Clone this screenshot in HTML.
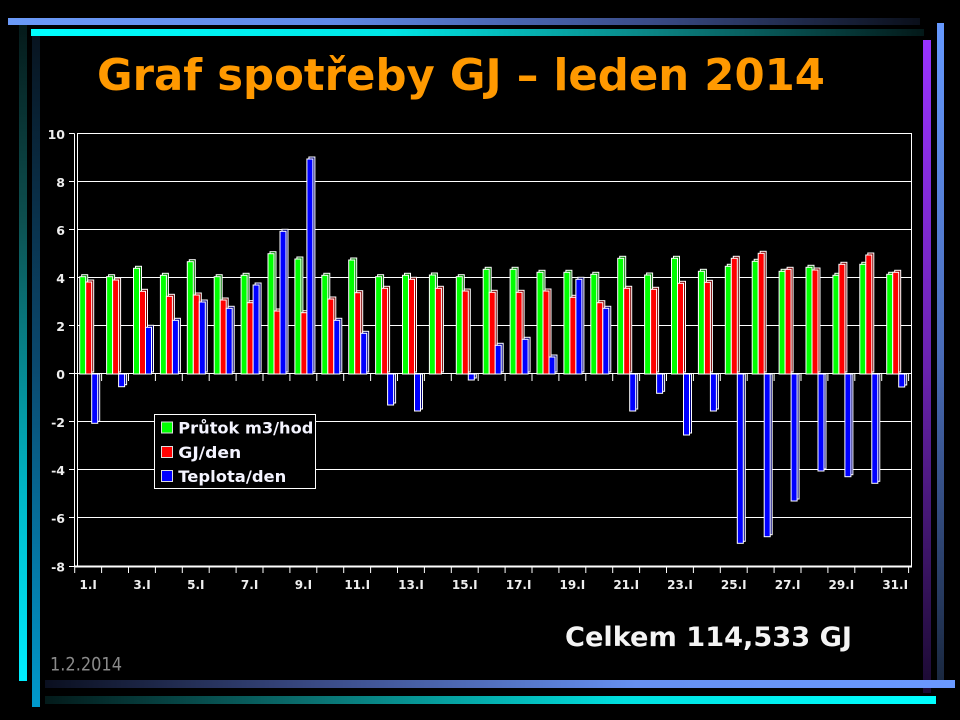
<!DOCTYPE html>
<html><head><meta charset="utf-8"><style>
html,body{margin:0;padding:0;background:#000;}
body{width:960px;height:720px;overflow:hidden;}
svg{display:block;}
.g{fill:#00ff00;stroke:#fff;stroke-width:1}
.gd{fill:#007a00;stroke:#fff;stroke-width:1}
.r{fill:#ff0000;stroke:#fff;stroke-width:1}
.rd{fill:#7a0000;stroke:#fff;stroke-width:1}
.b{fill:#0000ff;stroke:#fff;stroke-width:1}
.bd{fill:#00007a;stroke:#fff;stroke-width:1}
.yl{font-family:"DejaVu Sans","Liberation Sans",sans-serif;font-weight:bold;font-size:12.5px;fill:#eee;text-anchor:end}
.xl{font-family:"DejaVu Sans","Liberation Sans",sans-serif;font-weight:bold;font-size:12px;fill:#eee;text-anchor:middle}
.lg{font-family:"DejaVu Sans","Liberation Sans",sans-serif;font-weight:bold;font-size:16px;fill:#f4f4ff}
</style></head><body>
<svg width="960" height="720" viewBox="0 0 960 720" xmlns="http://www.w3.org/2000/svg">
<defs>
<linearGradient id="t1" x1="0" y1="0" x2="1" y2="0"><stop offset="0" stop-color="#6b9af8"/><stop offset="0.35" stop-color="#5f8ae8"/><stop offset="0.7" stop-color="#3a4c88"/><stop offset="1" stop-color="#0a0f1a"/></linearGradient>
<linearGradient id="t2" x1="0" y1="0" x2="1" y2="0"><stop offset="0" stop-color="#00ffff"/><stop offset="0.4" stop-color="#00e6e6"/><stop offset="0.7" stop-color="#0a8282"/><stop offset="1" stop-color="#031818"/></linearGradient>
<linearGradient id="la" x1="0" y1="0" x2="0" y2="1"><stop offset="0" stop-color="#051a1a"/><stop offset="0.3" stop-color="#0d5050"/><stop offset="0.7" stop-color="#00b4c4"/><stop offset="1" stop-color="#00eeff"/></linearGradient>
<linearGradient id="lb" x1="0" y1="0" x2="0" y2="1"><stop offset="0" stop-color="#081420"/><stop offset="0.5" stop-color="#0a4a70"/><stop offset="1" stop-color="#0099cc"/></linearGradient>
<linearGradient id="rp" x1="0" y1="0" x2="0" y2="1"><stop offset="0" stop-color="#9933ff"/><stop offset="0.5" stop-color="#6a22b0"/><stop offset="1" stop-color="#1a0a30"/></linearGradient>
<linearGradient id="rb" x1="0" y1="0" x2="0" y2="1"><stop offset="0" stop-color="#6699ff"/><stop offset="0.5" stop-color="#4a6cb8"/><stop offset="1" stop-color="#1a2840"/></linearGradient>
<linearGradient id="b1" x1="0" y1="0" x2="1" y2="0"><stop offset="0" stop-color="#0a0f1f"/><stop offset="0.3" stop-color="#3a4a85"/><stop offset="0.65" stop-color="#6690f0"/><stop offset="1" stop-color="#6a99ff"/></linearGradient>
<linearGradient id="b2" x1="0" y1="0" x2="1" y2="0"><stop offset="0" stop-color="#031a1a"/><stop offset="0.3" stop-color="#0a7070"/><stop offset="0.65" stop-color="#00e0e0"/><stop offset="1" stop-color="#00ffff"/></linearGradient>
</defs>

<!-- decorative bars -->
<rect x="8" y="18" width="912" height="7" fill="url(#t1)"/>
<rect x="31" y="29" width="893" height="7" fill="url(#t2)"/>
<rect x="19" y="25" width="8" height="656" fill="url(#la)"/>
<rect x="32" y="36" width="8" height="671" fill="url(#lb)"/>
<rect x="923" y="40" width="8" height="653" fill="url(#rp)"/>
<rect x="937" y="23" width="7" height="657" fill="url(#rb)"/>
<rect x="45" y="680" width="910" height="8" fill="url(#b1)"/>
<rect x="45" y="696" width="891" height="8" fill="url(#b2)"/>

<!-- title -->
<text x="97" y="90" font-family="DejaVu Sans, Liberation Sans, sans-serif" font-weight="bold" font-size="44" fill="#ff9900" textLength="728" lengthAdjust="spacingAndGlyphs">Graf spotřeby GJ – leden 2014</text>

<!-- gridlines -->
<g stroke="#fff" stroke-width="1" shape-rendering="crispEdges">
<line x1="77" y1="133.5" x2="911.5" y2="133.5"/>
<line x1="77" y1="181.5" x2="911.5" y2="181.5"/>
<line x1="77" y1="229.5" x2="911.5" y2="229.5"/>
<line x1="77" y1="277.5" x2="911.5" y2="277.5"/>
<line x1="77" y1="325.5" x2="911.5" y2="325.5"/>
<line x1="74.5" y1="373.5" x2="911.5" y2="373.5"/>
<line x1="77" y1="421.5" x2="911.5" y2="421.5"/>
<line x1="77" y1="469.5" x2="911.5" y2="469.5"/>
<line x1="77" y1="517.5" x2="911.5" y2="517.5"/>
<!-- left ticks -->
<line x1="69" y1="133.5" x2="74.5" y2="133.5"/>
<line x1="69" y1="181.5" x2="74.5" y2="181.5"/>
<line x1="69" y1="229.5" x2="74.5" y2="229.5"/>
<line x1="69" y1="277.5" x2="74.5" y2="277.5"/>
<line x1="69" y1="325.5" x2="74.5" y2="325.5"/>
<line x1="69" y1="373.5" x2="74.5" y2="373.5"/>
<line x1="69" y1="421.5" x2="74.5" y2="421.5"/>
<line x1="69" y1="469.5" x2="74.5" y2="469.5"/>
<line x1="69" y1="517.5" x2="74.5" y2="517.5"/>
<line x1="69" y1="566.5" x2="74.5" y2="566.5"/>
<!-- frame -->
<line x1="74.5" y1="133.5" x2="74.5" y2="567"/>
<line x1="77.5" y1="133" x2="77.5" y2="567"/>
<line x1="911.5" y1="133" x2="911.5" y2="567"/>
</g>
<line x1="74.5" y1="566.5" x2="912" y2="566.5" stroke="#fff" stroke-width="2" shape-rendering="crispEdges"/>

<!-- category ticks at 0 and bottom -->
<g stroke="#fff" stroke-width="1">
<path d="M101.6 374V381M128.5 374V381M155.4 374V381M182.3 374V381M209.2 374V381M236.1 374V381M263 374V381M289.9 374V381M316.8 374V381M343.7 374V381M370.6 374V381M397.5 374V381M424.4 374V381M451.3 374V381M478.2 374V381M505.1 374V381M532 374V381M558.9 374V381M585.8 374V381M612.7 374V381M639.6 374V381M666.5 374V381M693.4 374V381M720.3 374V381M747.2 374V381M774.1 374V381M801 374V381M827.9 374V381M854.8 374V381M881.7 374V381M908.6 374V381"/>
<path d="M74.7 567V573M101.6 567V573M128.5 567V573M155.4 567V573M182.3 567V573M209.2 567V573M236.1 567V573M263 567V573M289.9 567V573M316.8 567V573M343.7 567V573M370.6 567V573M397.5 567V573M424.4 567V573M451.3 567V573M478.2 567V573M505.1 567V573M532 567V573M558.9 567V573M585.8 567V573M612.7 567V573M639.6 567V573M666.5 567V573M693.4 567V573M720.3 567V573M747.2 567V573M774.1 567V573M801 567V573M827.9 567V573M854.8 567V573M881.7 567V573M908.6 567V573"/>
</g>

<!-- y labels -->
<text class="yl" x="65" y="139">10</text>
<text class="yl" x="65" y="187">8</text>
<text class="yl" x="65" y="235">6</text>
<text class="yl" x="65" y="283">4</text>
<text class="yl" x="65" y="331">2</text>
<text class="yl" x="65" y="379">0</text>
<text class="yl" x="65" y="427">-2</text>
<text class="yl" x="65" y="475">-4</text>
<text class="yl" x="65" y="523">-6</text>
<text class="yl" x="65" y="571.5">-8</text>

<!-- x labels -->
<text class="xl" x="88.2" y="589">1.I</text>
<text class="xl" x="142" y="589">3.I</text>
<text class="xl" x="195.8" y="589">5.I</text>
<text class="xl" x="249.6" y="589">7.I</text>
<text class="xl" x="303.4" y="589">9.I</text>
<text class="xl" x="357.2" y="589">11.I</text>
<text class="xl" x="411" y="589">13.I</text>
<text class="xl" x="464.8" y="589">15.I</text>
<text class="xl" x="518.6" y="589">17.I</text>
<text class="xl" x="572.4" y="589">19.I</text>
<text class="xl" x="626.2" y="589">21.I</text>
<text class="xl" x="680" y="589">23.I</text>
<text class="xl" x="733.8" y="589">25.I</text>
<text class="xl" x="787.6" y="589">27.I</text>
<text class="xl" x="841.4" y="589">29.I</text>
<text class="xl" x="895.2" y="589">31.I</text>

<!-- bars -->
<g transform="translate(74.7,0)">
<rect class="gd" x="7" y="274.7" width="6" height="97.3"/><rect class="g" x="5" y="276.7" width="6" height="97.3"/>
<rect class="rd" x="13" y="280" width="6" height="92"/><rect class="r" x="11" y="282" width="6" height="92"/>
<rect class="bd" x="19" y="374" width="6" height="47.3"/><rect class="b" x="17" y="374" width="6" height="49.3"/>
</g>
<g transform="translate(101.6,0)">
<rect class="gd" x="7" y="274.7" width="6" height="97.3"/><rect class="g" x="5" y="276.7" width="6" height="97.3"/>
<rect class="rd" x="13" y="278" width="6" height="94"/><rect class="r" x="11" y="280" width="6" height="94"/>
<rect class="bd" x="19" y="374" width="6" height="10.7"/><rect class="b" x="17" y="374" width="6" height="12.7"/>
</g>
<g transform="translate(128.5,0)">
<rect class="gd" x="7" y="266.3" width="6" height="105.7"/><rect class="g" x="5" y="268.3" width="6" height="105.7"/>
<rect class="rd" x="13" y="289.3" width="6" height="82.7"/><rect class="r" x="11" y="291.3" width="6" height="82.7"/>
<rect class="bd" x="19" y="325.3" width="6" height="46.7"/><rect class="b" x="17" y="327.3" width="6" height="46.7"/>
</g>
<g transform="translate(155.4,0)">
<rect class="gd" x="7" y="273.3" width="6" height="98.7"/><rect class="g" x="5" y="275.3" width="6" height="98.7"/>
<rect class="rd" x="13" y="294.3" width="6" height="77.7"/><rect class="r" x="11" y="296.3" width="6" height="77.7"/>
<rect class="bd" x="19" y="318.3" width="6" height="53.7"/><rect class="b" x="17" y="320.3" width="6" height="53.7"/>
</g>
<g transform="translate(182.3,0)">
<rect class="gd" x="7" y="259.7" width="6" height="112.3"/><rect class="g" x="5" y="261.7" width="6" height="112.3"/>
<rect class="rd" x="13" y="293" width="6" height="79"/><rect class="r" x="11" y="295" width="6" height="79"/>
<rect class="bd" x="19" y="300" width="6" height="72"/><rect class="b" x="17" y="302" width="6" height="72"/>
</g>
<g transform="translate(209.2,0)">
<rect class="gd" x="7" y="274.7" width="6" height="97.3"/><rect class="g" x="5" y="276.7" width="6" height="97.3"/>
<rect class="rd" x="13" y="298" width="6" height="74"/><rect class="r" x="11" y="300" width="6" height="74"/>
<rect class="bd" x="19" y="306.3" width="6" height="65.7"/><rect class="b" x="17" y="308.3" width="6" height="65.7"/>
</g>
<g transform="translate(236.1,0)">
<rect class="gd" x="7" y="273.3" width="6" height="98.7"/><rect class="g" x="5" y="275.3" width="6" height="98.7"/>
<rect class="rd" x="13" y="300.7" width="6" height="71.3"/><rect class="r" x="11" y="302.7" width="6" height="71.3"/>
<rect class="bd" x="19" y="283" width="6" height="89"/><rect class="b" x="17" y="285" width="6" height="89"/>
</g>
<g transform="translate(263,0)">
<rect class="gd" x="7" y="251.7" width="6" height="120.3"/><rect class="g" x="5" y="253.7" width="6" height="120.3"/>
<rect class="rd" x="13" y="309" width="6" height="63"/><rect class="r" x="11" y="311" width="6" height="63"/>
<rect class="bd" x="19" y="229.3" width="6" height="142.7"/><rect class="b" x="17" y="231.3" width="6" height="142.7"/>
</g>
<g transform="translate(289.9,0)">
<rect class="gd" x="7" y="257" width="6" height="115"/><rect class="g" x="5" y="259" width="6" height="115"/>
<rect class="rd" x="13" y="310.7" width="6" height="61.3"/><rect class="r" x="11" y="312.7" width="6" height="61.3"/>
<rect class="bd" x="19" y="157" width="6" height="215"/><rect class="b" x="17" y="159" width="6" height="215"/>
</g>
<g transform="translate(316.8,0)">
<rect class="gd" x="7" y="273.3" width="6" height="98.7"/><rect class="g" x="5" y="275.3" width="6" height="98.7"/>
<rect class="rd" x="13" y="297" width="6" height="75"/><rect class="r" x="11" y="299" width="6" height="75"/>
<rect class="bd" x="19" y="318.3" width="6" height="53.7"/><rect class="b" x="17" y="320.3" width="6" height="53.7"/>
</g>
<g transform="translate(343.7,0)">
<rect class="gd" x="7" y="258" width="6" height="114"/><rect class="g" x="5" y="260" width="6" height="114"/>
<rect class="rd" x="13" y="290.7" width="6" height="81.3"/><rect class="r" x="11" y="292.7" width="6" height="81.3"/>
<rect class="bd" x="19" y="331.3" width="6" height="40.7"/><rect class="b" x="17" y="333.3" width="6" height="40.7"/>
</g>
<g transform="translate(370.6,0)">
<rect class="gd" x="7" y="274.7" width="6" height="97.3"/><rect class="g" x="5" y="276.7" width="6" height="97.3"/>
<rect class="rd" x="13" y="286.3" width="6" height="85.7"/><rect class="r" x="11" y="288.3" width="6" height="85.7"/>
<rect class="bd" x="19" y="374" width="6" height="29"/><rect class="b" x="17" y="374" width="6" height="31"/>
</g>
<g transform="translate(397.5,0)">
<rect class="gd" x="7" y="273.3" width="6" height="98.7"/><rect class="g" x="5" y="275.3" width="6" height="98.7"/>
<rect class="rd" x="13" y="277.3" width="6" height="94.7"/><rect class="r" x="11" y="279.3" width="6" height="94.7"/>
<rect class="bd" x="19" y="374" width="6" height="35"/><rect class="b" x="17" y="374" width="6" height="37"/>
</g>
<g transform="translate(424.4,0)">
<rect class="gd" x="7" y="273" width="6" height="99"/><rect class="g" x="5" y="275" width="6" height="99"/>
<rect class="rd" x="13" y="286.3" width="6" height="85.7"/><rect class="r" x="11" y="288.3" width="6" height="85.7"/>
</g>
<g transform="translate(451.3,0)">
<rect class="gd" x="7" y="274.7" width="6" height="97.3"/><rect class="g" x="5" y="276.7" width="6" height="97.3"/>
<rect class="rd" x="13" y="289" width="6" height="83"/><rect class="r" x="11" y="291" width="6" height="83"/>
<rect class="bd" x="19" y="374" width="6" height="4"/><rect class="b" x="17" y="374" width="6" height="6"/>
</g>
<g transform="translate(478.2,0)">
<rect class="gd" x="7" y="267.3" width="6" height="104.7"/><rect class="g" x="5" y="269.3" width="6" height="104.7"/>
<rect class="rd" x="13" y="290.3" width="6" height="81.7"/><rect class="r" x="11" y="292.3" width="6" height="81.7"/>
<rect class="bd" x="19" y="343.3" width="6" height="28.7"/><rect class="b" x="17" y="345.3" width="6" height="28.7"/>
</g>
<g transform="translate(505.1,0)">
<rect class="gd" x="7" y="267.3" width="6" height="104.7"/><rect class="g" x="5" y="269.3" width="6" height="104.7"/>
<rect class="rd" x="13" y="290.3" width="6" height="81.7"/><rect class="r" x="11" y="292.3" width="6" height="81.7"/>
<rect class="bd" x="19" y="337.3" width="6" height="34.7"/><rect class="b" x="17" y="339.3" width="6" height="34.7"/>
</g>
<g transform="translate(532,0)">
<rect class="gd" x="7" y="270.3" width="6" height="101.7"/><rect class="g" x="5" y="272.3" width="6" height="101.7"/>
<rect class="rd" x="13" y="289" width="6" height="83"/><rect class="r" x="11" y="291" width="6" height="83"/>
<rect class="bd" x="19" y="355" width="6" height="17"/><rect class="b" x="17" y="357" width="6" height="17"/>
</g>
<g transform="translate(558.9,0)">
<rect class="gd" x="7" y="270.3" width="6" height="101.7"/><rect class="g" x="5" y="272.3" width="6" height="101.7"/>
<rect class="rd" x="13" y="295.3" width="6" height="76.7"/><rect class="r" x="11" y="297.3" width="6" height="76.7"/>
<rect class="bd" x="19" y="277.3" width="6" height="94.7"/><rect class="b" x="17" y="279.3" width="6" height="94.7"/>
</g>
<g transform="translate(585.8,0)">
<rect class="gd" x="7" y="272.3" width="6" height="99.7"/><rect class="g" x="5" y="274.3" width="6" height="99.7"/>
<rect class="rd" x="13" y="300.7" width="6" height="71.3"/><rect class="r" x="11" y="302.7" width="6" height="71.3"/>
<rect class="bd" x="19" y="306.3" width="6" height="65.7"/><rect class="b" x="17" y="308.3" width="6" height="65.7"/>
</g>
<g transform="translate(612.7,0)">
<rect class="gd" x="7" y="256.3" width="6" height="115.7"/><rect class="g" x="5" y="258.3" width="6" height="115.7"/>
<rect class="rd" x="13" y="286.3" width="6" height="85.7"/><rect class="r" x="11" y="288.3" width="6" height="85.7"/>
<rect class="bd" x="19" y="374" width="6" height="35"/><rect class="b" x="17" y="374" width="6" height="37"/>
</g>
<g transform="translate(639.6,0)">
<rect class="gd" x="7" y="273" width="6" height="99"/><rect class="g" x="5" y="275" width="6" height="99"/>
<rect class="rd" x="13" y="287.3" width="6" height="84.7"/><rect class="r" x="11" y="289.3" width="6" height="84.7"/>
<rect class="bd" x="19" y="374" width="6" height="17.3"/><rect class="b" x="17" y="374" width="6" height="19.3"/>
</g>
<g transform="translate(666.5,0)">
<rect class="gd" x="7" y="256.3" width="6" height="115.7"/><rect class="g" x="5" y="258.3" width="6" height="115.7"/>
<rect class="rd" x="13" y="281.3" width="6" height="90.7"/><rect class="r" x="11" y="283.3" width="6" height="90.7"/>
<rect class="bd" x="19" y="374" width="6" height="59"/><rect class="b" x="17" y="374" width="6" height="61"/>
</g>
<g transform="translate(693.4,0)">
<rect class="gd" x="7" y="269.3" width="6" height="102.7"/><rect class="g" x="5" y="271.3" width="6" height="102.7"/>
<rect class="rd" x="13" y="280.3" width="6" height="91.7"/><rect class="r" x="11" y="282.3" width="6" height="91.7"/>
<rect class="bd" x="19" y="374" width="6" height="35"/><rect class="b" x="17" y="374" width="6" height="37"/>
</g>
<g transform="translate(720.3,0)">
<rect class="gd" x="7" y="264.3" width="6" height="107.7"/><rect class="g" x="5" y="266.3" width="6" height="107.7"/>
<rect class="rd" x="13" y="256.3" width="6" height="115.7"/><rect class="r" x="11" y="258.3" width="6" height="115.7"/>
<rect class="bd" x="19" y="374" width="6" height="167.3"/><rect class="b" x="17" y="374" width="6" height="169.3"/>
</g>
<g transform="translate(747.2,0)">
<rect class="gd" x="7" y="259.3" width="6" height="112.7"/><rect class="g" x="5" y="261.3" width="6" height="112.7"/>
<rect class="rd" x="13" y="251.3" width="6" height="120.7"/><rect class="r" x="11" y="253.3" width="6" height="120.7"/>
<rect class="bd" x="19" y="374" width="6" height="160.7"/><rect class="b" x="17" y="374" width="6" height="162.7"/>
</g>
<g transform="translate(774.1,0)">
<rect class="gd" x="7" y="269.3" width="6" height="102.7"/><rect class="g" x="5" y="271.3" width="6" height="102.7"/>
<rect class="rd" x="13" y="267.3" width="6" height="104.7"/><rect class="r" x="11" y="269.3" width="6" height="104.7"/>
<rect class="bd" x="19" y="374" width="6" height="125"/><rect class="b" x="17" y="374" width="6" height="127"/>
</g>
<g transform="translate(801,0)">
<rect class="gd" x="7" y="265.3" width="6" height="106.7"/><rect class="g" x="5" y="267.3" width="6" height="106.7"/>
<rect class="rd" x="13" y="268" width="6" height="104"/><rect class="r" x="11" y="270" width="6" height="104"/>
<rect class="bd" x="19" y="374" width="6" height="95"/><rect class="b" x="17" y="374" width="6" height="97"/>
</g>
<g transform="translate(827.9,0)">
<rect class="gd" x="7" y="273.3" width="6" height="98.7"/><rect class="g" x="5" y="275.3" width="6" height="98.7"/>
<rect class="rd" x="13" y="262.3" width="6" height="109.7"/><rect class="r" x="11" y="264.3" width="6" height="109.7"/>
<rect class="bd" x="19" y="374" width="6" height="100.7"/><rect class="b" x="17" y="374" width="6" height="102.7"/>
</g>
<g transform="translate(854.8,0)">
<rect class="gd" x="7" y="262.3" width="6" height="109.7"/><rect class="g" x="5" y="264.3" width="6" height="109.7"/>
<rect class="rd" x="13" y="253" width="6" height="119"/><rect class="r" x="11" y="255" width="6" height="119"/>
<rect class="bd" x="19" y="374" width="6" height="107.3"/><rect class="b" x="17" y="374" width="6" height="109.3"/>
</g>
<g transform="translate(881.7,0)">
<rect class="gd" x="7" y="272.3" width="6" height="99.7"/><rect class="g" x="5" y="274.3" width="6" height="99.7"/>
<rect class="rd" x="13" y="270.3" width="6" height="101.7"/><rect class="r" x="11" y="272.3" width="6" height="101.7"/>
<rect class="bd" x="19" y="374" width="6" height="11"/><rect class="b" x="17" y="374" width="6" height="13"/>
</g>

<!-- legend -->
<rect x="154.5" y="414.5" width="161" height="74" fill="#000" stroke="#fff" stroke-width="1"/>
<rect x="161.5" y="422" width="11" height="11" fill="#00ff00" stroke="#ddd" stroke-width="1"/>
<rect x="161.5" y="446.5" width="11" height="11" fill="#ff0000" stroke="#ddd" stroke-width="1"/>
<rect x="161.5" y="470.5" width="11" height="11" fill="#0000ff" stroke="#ddd" stroke-width="1"/>
<text class="lg" x="178.3" y="433.3" textLength="135" lengthAdjust="spacingAndGlyphs">Průtok m3/hod</text>
<text class="lg" x="178.3" y="457.8" textLength="63" lengthAdjust="spacingAndGlyphs">GJ/den</text>
<text class="lg" x="178.3" y="482" textLength="108" lengthAdjust="spacingAndGlyphs">Teplota/den</text>

<!-- bottom texts -->
<text x="565" y="646" font-family="DejaVu Sans, Liberation Sans, sans-serif" font-weight="bold" font-size="27" fill="#f4f4f4" textLength="287" lengthAdjust="spacingAndGlyphs">Celkem 114,533 GJ</text>
<text x="50" y="670.5" font-family="DejaVu Sans, Liberation Sans, sans-serif" font-size="18.5" fill="#8a8a8a" textLength="72" lengthAdjust="spacingAndGlyphs">1.2.2014</text>
</svg>
</body></html>
